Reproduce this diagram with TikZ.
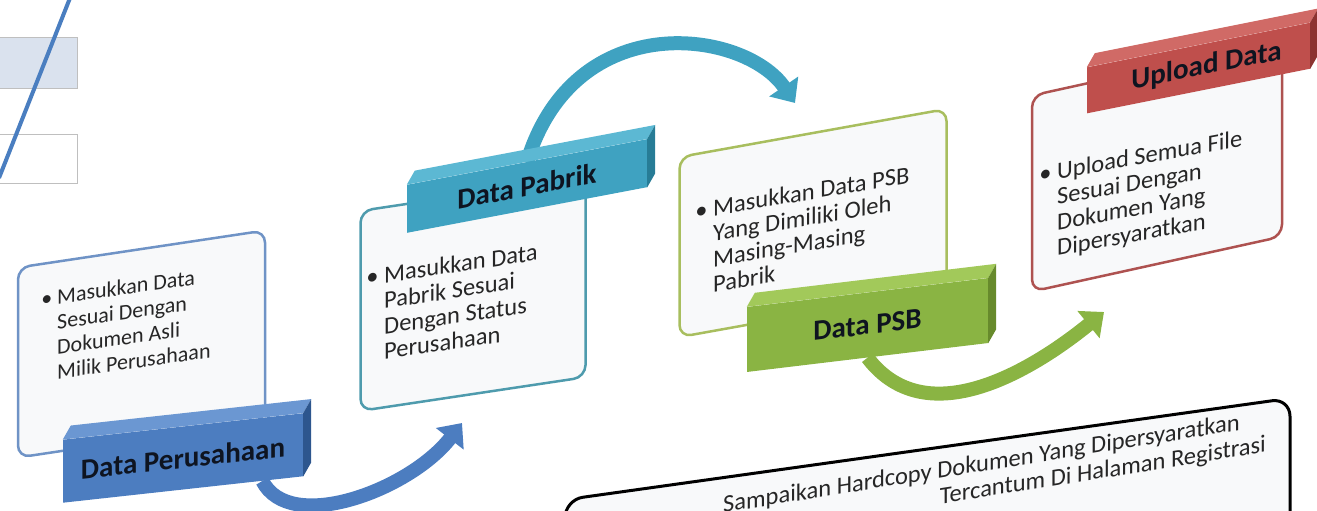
\documentclass[tikz,border=0pt]{standalone}
\usepackage{fontspec}
\setmainfont{Carlito}
\usetikzlibrary{arrows.meta,calc,backgrounds,positioning}

\definecolor{boxfill}{HTML}{F8F9FA}
\definecolor{txt}{HTML}{262626}
\definecolor{bartxt}{HTML}{0E1420}
\definecolor{oldfill}{HTML}{DAE2EE}
\definecolor{oldline}{HTML}{4A7EC0}
% blue
\definecolor{bluefront}{HTML}{4C7DC0}
\definecolor{bluetop}{HTML}{6B97D2}
\definecolor{blueside}{HTML}{2D568E}
\definecolor{blueline}{HTML}{6F93C6}
% teal
\definecolor{tealfront}{HTML}{3FA2C1}
\definecolor{tealtop}{HTML}{5CB8D3}
\definecolor{tealside}{HTML}{277C96}
\definecolor{tealline}{HTML}{4E9BAD}
% green
\definecolor{greenfront}{HTML}{8AB443}
\definecolor{greentop}{HTML}{A2C95A}
\definecolor{greenside}{HTML}{678A2C}
\definecolor{greenline}{HTML}{A8BE5E}
% red
\definecolor{redfront}{HTML}{BF4F4C}
\definecolor{redtop}{HTML}{D06A66}
\definecolor{redside}{HTML}{8C3331}
\definecolor{redline}{HTML}{AE5250}

\begin{document}
\begin{tikzpicture}[x=1pt,y=1pt,
    box/.style={draw, line width=2.5pt, rounded corners=12pt, fill=boxfill, inner sep=0pt},
    boxtext/.style={anchor=west, align=left, inner sep=0pt, text=txt,
        font=\fontsize{22}{25}\selectfont},
    bigtext/.style={boxtext, font=\fontsize{24.5}{25.5}\selectfont},
    bar/.style={inner sep=0pt, text=bartxt, font=\bfseries\fontsize{29}{29}\selectfont},
    flow/.style={line width=14pt, -{Triangle[width=34pt,length=20pt]}}]

\useasboundingbox (0,0) rectangle (1317,-511);
\clip (0,0) rectangle (1317,-511);

% piece of the figure above
\draw[draw=black!25, fill=oldfill, line width=1pt] (-2,-38) rectangle (77,-88);
\draw[draw=black!25, fill=white, line width=1pt] (-2,-134) rectangle (77,-183);
\draw[oldline, line width=4pt] (70,2) -- (-1,-178);

% boxes
\node[box, draw=blueline,  yslant=0.15, minimum width=247pt, minimum height=190pt] (box1) at (141.5,-344) {};
\node[box, draw=tealline,  yslant=0.15, minimum width=225pt, minimum height=200pt] (box2) at (473,-294)   {};
\node[box, draw=greenline, yslant=0.18, minimum width=267pt, minimum height=180pt] (box3) at (813,-223)   {};
\node[box, draw=redline,   yslant=0.22, minimum width=250pt, minimum height=196pt] (box4) at (1157,-166)  {};
\node[box, draw=black, line width=3pt, rounded corners=18pt, yslant=0.14,
      minimum width=725pt, minimum height=150pt] (note) at (927.5,-524) {};

\node[boxtext, yslant=0.14] (text1) at (57,-334)
    {\llap{\textbullet\ }Masukkan Data\\Sesuai Dengan\\Dokumen Asli\\Milik Perusahaan};
\node[bigtext, yslant=0.15] (text2) at (384,-313)
    {\llap{\textbullet\ }Masukkan Data\\Pabrik Sesuai\\Dengan Status\\Perusahaan};
\node[bigtext, yslant=0.17] (text3) at (713,-246)
    {\llap{\textbullet\ }Masukkan Data PSB\\Yang Dimiliki Oleh\\Masing-Masing\\Pabrik};
\node[bigtext, yslant=0.18] (text4) at (1057,-211)
    {\llap{\textbullet\ }Upload Semua File\\Sesuai Dengan\\Dokumen Yang\\Dipersyaratkan};

\node[bigtext, anchor=base east, yslant=0.16] (note1) at (1240,-430)
    {Sampaikan Hardcopy Dokumen Yang Dipersyaratkan};
\node[bigtext, anchor=base east, yslant=0.16] (note2) at (1266,-452)
    {Tercantum Di Halaman Registrasi};

% 3d bars
\node[bar, fill=bluefront,  yslant=0.11, minimum width=240pt, minimum height=63pt] (bar1) at (183,-458)   {Data Perusahaan};
\node[bar, fill=tealfront,  yslant=0.19, minimum width=240pt, minimum height=48pt] (bar2) at (527,-186)   {Data Pabrik};
\node[bar, fill=greenfront, yslant=0.12, minimum width=241pt, minimum height=65pt] (bar3) at (867.5,-325) {Data PSB};
\node[bar, fill=redfront,   yslant=0.20, minimum width=223pt, minimum height=46pt] (bar4) at (1198.5,-68)
    {\hspace*{16pt}Upload Data};

\foreach \b/\tc/\sc in {bar1/bluetop/blueside, bar2/tealtop/tealside,
                        bar3/greentop/greenside, bar4/redtop/redside}{
  \fill[\tc] (\b.north west) -- ++(8,14) -- ($(\b.north east)+(8,14)$) -- (\b.north east) -- cycle;
  \fill[\sc] (\b.north east) -- ++(8,14) -- ($(\b.south east)+(8,14)$) -- (\b.south east) -- cycle;
}

% arrows between the steps
\coordinate (tip1) at (462,-423);
\coordinate (tip2) at (795,-103);
\coordinate (tip3) at (1104,-312);

\begin{scope}[on background layer]
\draw[flow, bluefront] ($(bar1.south east)!0.17!(bar1.south west)$)
    .. controls (290,-535) and (410,-490) .. (tip1);
\draw[flow, tealfront] (bar2.north)
    .. controls (575,-5) and (745,-30) .. (tip2);
\draw[flow, greenfront] (bar3.south)
    .. controls (930,-440) and (1045,-360) .. (tip3);
\end{scope}

\end{tikzpicture}
\end{document}
